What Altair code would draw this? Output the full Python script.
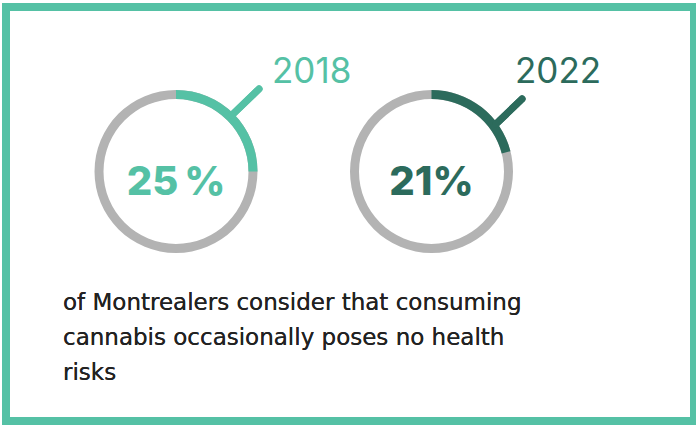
import altair as alt
import pandas as pd

years = ["2018", "2022"]
values = [25, 21]
pct_labels = ["25\u2009%", "21%"]
colors = ["#55C1A5", "#2C6B5C"]
caption = [
    "of Montrealers consider that consuming",
    "cannabis occasionally poses no health",
    "risks",
]

df = pd.DataFrame({"year": years, "value": values, "label": pct_labels})

FONT = "Inter"
xscale = alt.Scale(domain=years, range=[176, 431.5], type="point", padding=0)
cscale = alt.Scale(domain=years, range=colors)
tscale = alt.Scale(domain=[0, 100], range=[0, 6.283185])

base = alt.Chart(df)

frame = base.mark_rect(fill=None, stroke="#55C1A5", strokeWidth=8).encode(
    x=alt.value(6), x2=alt.value(694), y=alt.value(7), y2=alt.value(421)
)

rings = base.mark_arc(
    radius=81.5, radius2=72.5, theta=0, theta2=6.2832, color="#B3B3B3"
).encode(x=alt.X("year:N", scale=xscale, axis=None), y=alt.value(171.5))

arcs = base.transform_calculate(zero="0").mark_arc(radius=81.5, radius2=72.5).encode(
    x=alt.X("year:N", scale=xscale, axis=None),
    y=alt.value(171.5),
    theta=alt.Theta("zero:Q", scale=tscale, stack=None),
    theta2=alt.Theta2("value:Q"),
    color=alt.Color("year:N", scale=cscale, legend=None),
)

pct = base.mark_text(
    font=FONT, fontSize=40, fontWeight=800, baseline="alphabetic", align="center"
).encode(
    x=alt.X("year:N", scale=xscale, axis=None),
    y=alt.value(195),
    text="label:N",
    color=alt.Color("year:N", scale=cscale, legend=None),
)

def year_label(yr, dx):
    return base.transform_filter(alt.datum.year == yr).mark_text(
        font=FONT, fontSize=35, baseline="alphabetic", align="left", dx=dx
    ).encode(
        x=alt.X("year:N", scale=xscale, axis=None),
        y=alt.value(83),
        text="year:N",
        color=alt.Color("year:N", scale=cscale, legend=None),
    )

lbl1 = year_label(years[0], 96)
lbl2 = year_label(years[1], 83.5)

tick1 = base.mark_rule(stroke=colors[0], strokeWidth=7, strokeCap="round").encode(
    x=alt.value(232), y=alt.value(115), x2=alt.value(259), y2=alt.value(89)
)
tick2 = base.mark_rule(stroke=colors[1], strokeWidth=7, strokeCap="round").encode(
    x=alt.value(496), y=alt.value(124), x2=alt.value(522), y2=alt.value(99)
)

cap = base.mark_text(
    font="DejaVu Sans", fontSize=23, align="left", baseline="alphabetic", lineHeight=35,
    color="#222222",
).encode(x=alt.value(63), y=alt.value(310), text=alt.value(caption))

chart = alt.layer(frame, rings, arcs, tick1, tick2, pct, lbl1, lbl2, cap).properties(
    width=696, height=425, padding=0, autosize="none", background="white"
).configure_view(stroke=None)

chart.save("out.html", embed_options={"renderer": "svg", "actions": False})
